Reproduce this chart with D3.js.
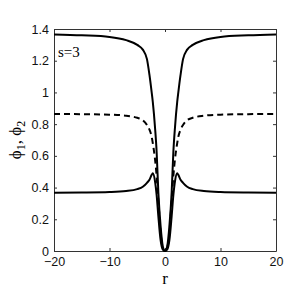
<!DOCTYPE html>
<html><head><meta charset="utf-8">
<script src="https://cdn.jsdelivr.net/npm/d3@7"></script>
<style>
body{margin:0;background:#fff;}
svg{display:block;}
.tick text{font-family:"Liberation Sans",Arial,sans-serif;font-size:12.5px;fill:#111;}
</style></head>
<body><svg id="c" width="305" height="292"></svg>
<script>
const rValues = [-20,-15,-10,-7,-5,-4,-3.25,-2.8,-2.4,-2.2,-1.8,-1.5,-1.2,-0.8,-0.4,0,0.4,0.8,1.2,1.5,1.8,2.2,2.4,2.8,3.25,4,5,7,10,15,20];
const phiUpper = [1.366,1.36,1.35,1.33,1.30,1.27,1.21,1.11,1.0,0.94,0.78,0.62,0.37,0.16,0.03,0,0.03,0.16,0.37,0.62,0.78,0.94,1.0,1.11,1.21,1.27,1.30,1.33,1.35,1.36,1.366];
const phiLower = [0.368,0.369,0.372,0.378,0.39,0.405,0.43,0.45,0.48,0.49,0.44,0.35,0.22,0.07,0.01,0,0.01,0.07,0.22,0.35,0.44,0.49,0.48,0.45,0.43,0.405,0.39,0.378,0.372,0.369,0.368];
const phiDashed = [0.864,0.863,0.86,0.853,0.84,0.825,0.795,0.765,0.72,0.68,0.58,0.47,0.32,0.12,0.02,0,0.02,0.12,0.32,0.47,0.58,0.68,0.72,0.765,0.795,0.825,0.84,0.853,0.86,0.863,0.864];
const xTicks = [-20,-10,0,10,20];
const yTicks = [0,0.2,0.4,0.6,0.8,1,1.2,1.4];

const svg = d3.select("#c");
const L=54,R=276,T=29,B=251;
const x = d3.scaleLinear().domain([-20,20]).range([L,R]);
const y = d3.scaleLinear().domain([0,1.4]).range([B,T]);
const axisColor="#333";

function styleAxis(g){
  g.selectAll(".domain").attr("stroke",axisColor);
  g.selectAll(".tick line").attr("stroke",axisColor);
}
svg.append("g").attr("transform",`translate(0,${B})`)
  .call(d3.axisBottom(x).tickValues(xTicks).tickSizeInner(-3).tickSizeOuter(0).tickPadding(6).tickFormat(d3.format("d")))
  .call(styleAxis);
svg.append("g").attr("transform",`translate(0,${T})`)
  .call(d3.axisTop(x).tickValues(xTicks).tickSizeInner(-3).tickSizeOuter(0).tickFormat(""))
  .call(styleAxis);
svg.append("g").attr("transform",`translate(${L},0)`)
  .call(d3.axisLeft(y).tickValues(yTicks).tickSizeInner(-3).tickSizeOuter(0).tickPadding(5).tickFormat(d=>d3.format("")(+d.toFixed(1))))
  .call(styleAxis);
svg.append("g").attr("transform",`translate(${R},0)`)
  .call(d3.axisRight(y).tickValues(yTicks).tickSizeInner(-3).tickSizeOuter(0).tickFormat(""))
  .call(styleAxis);

const line = (vals)=>d3.line().x((d,i)=>x(rValues[i])).y(d=>y(d)).curve(d3.curveMonotoneX)(vals);
const plot = svg.append("g");
plot.append("path").attr("d",line(phiDashed)).attr("fill","none").attr("stroke","#000").attr("stroke-width",2).attr("stroke-dasharray","6,4");
plot.append("path").attr("d",line(phiUpper)).attr("fill","none").attr("stroke","#000").attr("stroke-width",2);
plot.append("path").attr("d",line(phiLower)).attr("fill","none").attr("stroke","#000").attr("stroke-width",2);

svg.append("text").attr("x",58).attr("y",57).attr("font-family","'Liberation Serif','Times New Roman',serif").attr("font-size",15).text("s=3");
svg.append("text").attr("x",x(0)).attr("y",284).attr("text-anchor","middle").attr("font-family","'Liberation Serif','Times New Roman',serif").attr("font-size",17).text("r");
const yl = svg.append("text").attr("transform","translate(21,140) rotate(-90)").attr("text-anchor","middle").attr("font-family","'Liberation Serif','Times New Roman',serif").attr("font-size",17);
yl.append("tspan").text("\u03d5");
yl.append("tspan").attr("font-size",12).attr("dy",4).text("1");
yl.append("tspan").attr("dy",-4).text(", \u03d5");
yl.append("tspan").attr("font-size",12).attr("dy",4).text("2");
</script></body></html>
